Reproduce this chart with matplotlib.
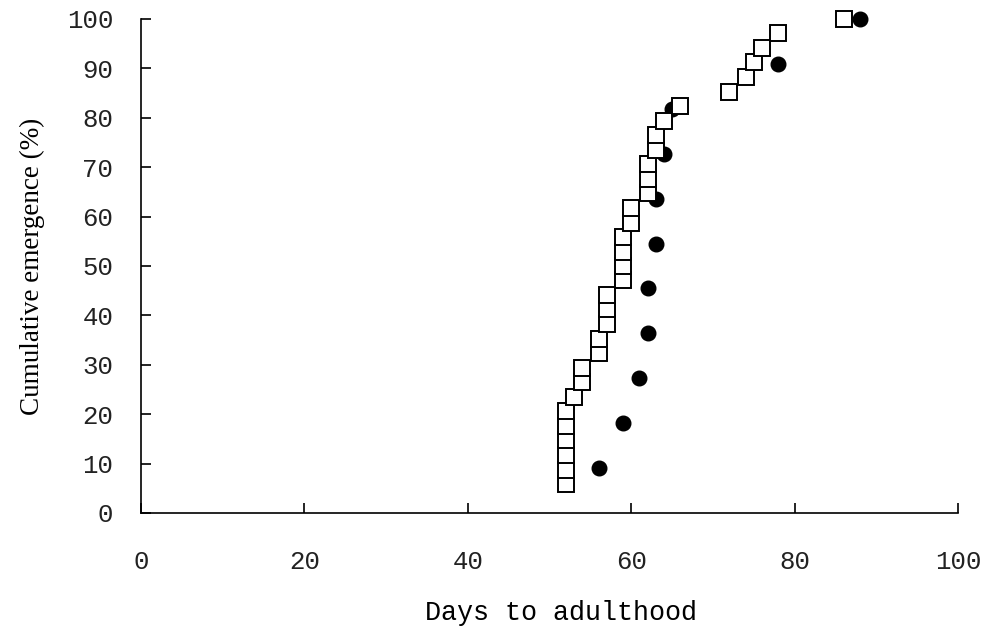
import matplotlib
matplotlib.use("Agg")
import matplotlib.pyplot as plt

# 累计羽化数据
circle_days = [56, 59, 61, 62, 62, 63, 63, 64, 65, 78, 88]
circle_pct = [9.1, 18.2, 27.3, 36.4, 45.5, 54.5, 63.6, 72.7, 81.8, 90.9, 100.0]

square_days = [52, 52, 52, 52, 52, 52, 53, 54, 54, 56, 56, 57, 57, 57,
               59, 59, 59, 59, 60, 60, 62, 62, 62, 63, 63, 64, 66,
               72, 74, 75, 76, 78, 86]
square_pct = [5.9, 8.8, 11.8, 14.7, 17.6, 20.6, 23.5, 26.5, 29.4, 32.4, 35.3,
              38.2, 41.2, 44.1, 47.1, 50.0, 52.9, 55.9, 58.8, 61.8, 64.7,
              67.6, 70.6, 73.5, 76.5, 79.4, 82.4, 85.3, 88.2, 91.2, 94.1,
              97.1, 100.0]

x_ticks = [0, 20, 40, 60, 80, 100]
y_ticks = [0, 10, 20, 30, 40, 50, 60, 70, 80, 90, 100]

fig = plt.figure(figsize=(9.87, 6.33), dpi=100)
ax = fig.add_axes([0.1429, 0.1896, 0.8277, 0.7804])

ax.plot(circle_days, circle_pct, linestyle='none', marker='o', markersize=10.5,
        color='black', zorder=3, clip_on=False)
ax.plot(square_days, square_pct, linestyle='none', marker='s', markersize=11,
        markerfacecolor='white', markeredgecolor='black', markeredgewidth=1.4,
        zorder=4, clip_on=False)

ax.set_xlim(0, 100)
ax.set_ylim(0, 100)
ax.set_xticks(x_ticks)
ax.set_yticks(y_ticks)

for s in ['top', 'right']:
    ax.spines[s].set_visible(False)
for s in ['left', 'bottom']:
    ax.spines[s].set_linewidth(1.2)

ax.tick_params(axis='both', direction='in', length=7, width=1.2, color='black')
ax.tick_params(axis='x', pad=27)
ax.tick_params(axis='y', pad=20)
for lab in ax.get_xticklabels() + ax.get_yticklabels():
    lab.set_family('Liberation Mono')
    lab.set_fontsize(18.5)
    lab.set_color('#222222')

ax.set_xlabel('Days to adulthood', fontfamily='Liberation Mono', fontsize=19.3)
ax.set_ylabel('Cumulative emergence (%)', fontfamily='Liberation Serif',
              fontsize=19.5)
ax.xaxis.set_label_coords(0.5145, -0.177)
ax.yaxis.set_label_coords(-0.118, 0.5)

plt.savefig('out.png', dpi=100)
